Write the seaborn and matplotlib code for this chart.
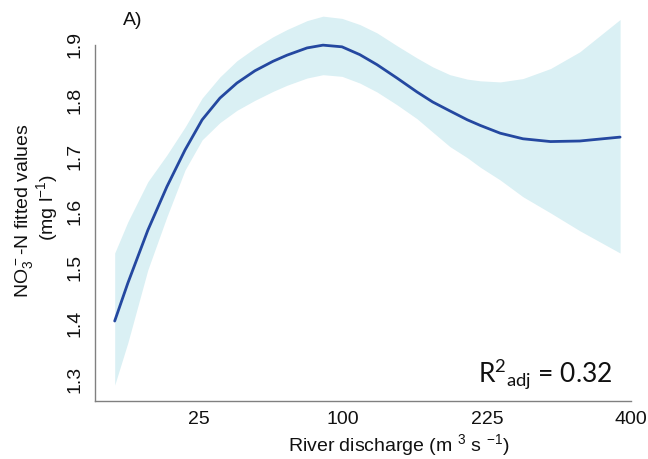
import numpy as np
import pandas as pd
import matplotlib
matplotlib.use("Agg")
import matplotlib.pyplot as plt
import seaborn as sns

# ---- data ----
discharge = [4.3, 6.4, 10.4, 15.1, 20.4, 26.1, 32.8, 39.9, 48.2, 57.3, 64.9, 76.6, 86.6,
             99.3, 112, 125, 141, 158, 172, 188, 205, 218, 239, 264, 296, 332, 385]
fitted = [1.404, 1.472, 1.567, 1.645, 1.711, 1.765, 1.804, 1.831, 1.853, 1.870, 1.881, 1.894,
          1.899, 1.896, 1.882, 1.864, 1.840, 1.815, 1.797, 1.781, 1.765, 1.755, 1.741, 1.731,
          1.726, 1.727, 1.734]
upper = [1.526, 1.582, 1.654, 1.702, 1.752, 1.804, 1.842, 1.871, 1.894, 1.914, 1.927, 1.943,
         1.951, 1.947, 1.936, 1.921, 1.898, 1.876, 1.860, 1.846, 1.838, 1.835, 1.833, 1.839,
         1.857, 1.887, 1.945]
lower = [1.289, 1.365, 1.496, 1.591, 1.675, 1.729, 1.760, 1.782, 1.800, 1.816, 1.827, 1.840,
         1.846, 1.843, 1.831, 1.815, 1.792, 1.767, 1.743, 1.717, 1.697, 1.680, 1.657, 1.627,
         1.598, 1.566, 1.526]
x_ticks = [25, 100, 225, 400]
y_ticks = [1.3, 1.4, 1.5, 1.6, 1.7, 1.8, 1.9]

df = pd.DataFrame({"discharge": discharge, "fitted": fitted, "lower": lower, "upper": upper})

sns.set_style("white")
plt.rcParams["font.family"] = ["Liberation Sans", "DejaVu Sans"]

W, H = 648, 459
fig = plt.figure(figsize=(W / 100, H / 100), dpi=100)
ax = fig.add_axes([95 / W, (H - 401) / H, (631 - 95) / W, 401 / H])

ax.set_xscale("function", functions=(np.sqrt, np.square))

ax.fill_between(df["discharge"], df["lower"], df["upper"], color="#daf0f4", lw=0)
sns.lineplot(data=df, x="discharge", y="fitted", ax=ax, color="#2448a0", lw=2.0)

xlo, xhi = 1.39 ** 2, 400
ylo, yhi = 1.2605, 1.98
ax.set_xlim(xlo, xhi)
ax.set_ylim(ylo, yhi)

for s in ["top", "right"]:
    ax.spines[s].set_visible(False)
for s in ["left", "bottom"]:
    ax.spines[s].set_color("#808080")
    ax.spines[s].set_linewidth(1.0)
ax.spines["left"].set_bounds(ylo, 1.9)
ax.spines["bottom"].set_bounds(xlo, 400)

ax.set_xticks(x_ticks)
ax.set_xticklabels([str(v) for v in x_ticks])
ax.set_yticks(y_ticks)
ax.set_yticklabels([f"{v:.1f}" for v in y_ticks], rotation=90, va="center")
ax.tick_params(axis="x", direction="out", length=5, width=1, color="#808080",
               labelsize=14, pad=2, labelcolor="#111111")
ax.tick_params(axis="y", direction="out", length=7, width=1, color="#808080",
               labelsize=14, pad=1, labelcolor="#111111")
ax.minorticks_off()
ax.set_xlabel("")
ax.set_ylabel("")
ax.grid(False)

# axis titles
fig.text(399 / W, 1 - 451 / H, r"River discharge (m $\mathregular{^{3}}$ s $\mathregular{^{-1}}$)",
         ha="center", va="baseline", fontsize=14, color="#111111")
fig.text(24 / W, 1 - 211 / H, r"NO$\mathregular{_3^-}$-N fitted values", rotation=90,
         ha="center", va="center", fontsize=14, color="#111111")
fig.text(47 / W, 1 - 208 / H, r"(mg l$\mathregular{^{-1}}$)", rotation=90,
         ha="center", va="center", fontsize=14, color="#111111")

fig.text(123 / W, 1 - 25 / H, "A)", ha="left", va="baseline", fontsize=14, color="#111111")
fig.text(478 / W, 1 - 383 / H, r"R$\mathregular{^{2}{}_{adj}}$ = 0.32", ha="left", va="baseline",
         fontsize=19, color="#111111", family=["Lato", "DejaVu Sans"])

fig.savefig("out.png", dpi=100)
